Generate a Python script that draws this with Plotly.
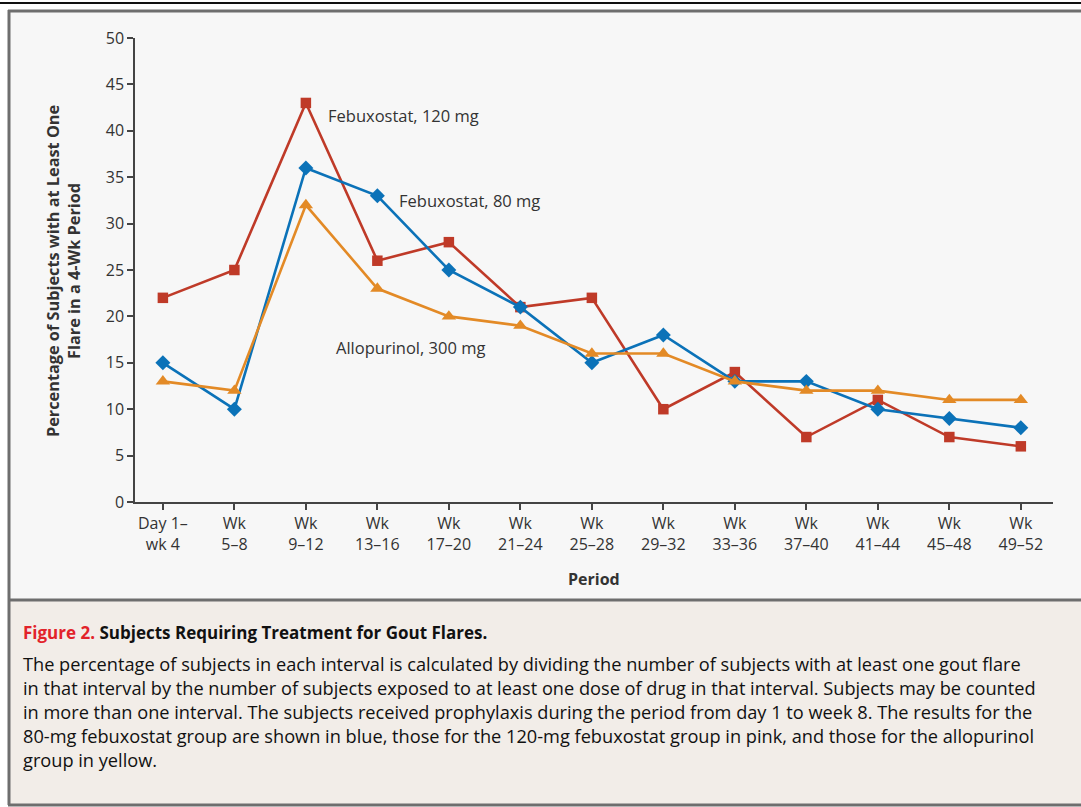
import plotly.graph_objects as go

W, H = 1081, 807

periods = ["Day 1–<br>wk 4", "Wk<br>5–8", "Wk<br>9–12", "Wk<br>13–16", "Wk<br>17–20",
           "Wk<br>21–24", "Wk<br>25–28", "Wk<br>29–32", "Wk<br>33–36", "Wk<br>37–40",
           "Wk<br>41–44", "Wk<br>45–48", "Wk<br>49–52"]
febux_120 = [22, 25, 43, 26, 28, 21, 22, 10, 14, 7, 11, 7, 6]
febux_80 = [15, 10, 36, 33, 25, 21, 15, 18, 13, 13, 10, 9, 8]
allopurinol_300 = [13, 12, 32, 23, 20, 19, 16, 16, 13, 12, 12, 11, 11]
y_ticks = [0, 5, 10, 15, 20, 25, 30, 35, 40, 45, 50]

caption_title = "Subjects Requiring Treatment for Gout Flares."
caption_lines = [
    "The percentage of subjects in each interval is calculated by dividing the number of subjects with at least one gout flare",
    "in that interval by the number of subjects exposed to at least one dose of drug in that interval. Subjects may be counted",
    "in more than one interval. The subjects received prophylaxis during the period from day 1 to week 8. The results for the",
    "80-mg febuxostat group are shown in blue, those for the 120-mg febuxostat group in pink, and those for the allopurinol",
    "group in yellow.",
]

FONT = "Open Sans"
TXT = "#333333"
RED = "#bf3a28"
BLUE = "#0b72b8"
ORANGE = "#e38a26"

def py(px):
    return 1 - px / H

def pxx(px):
    return px / W

xs = list(range(len(periods)))

fig = go.Figure()
fig.add_trace(go.Scatter(x=xs, y=febux_120, mode="lines+markers", name="Febuxostat, 120 mg",
                         line=dict(color=RED, width=2.6),
                         marker=dict(symbol="square", size=10.5, color=RED), cliponaxis=False))
fig.add_trace(go.Scatter(x=xs, y=febux_80, mode="lines+markers", name="Febuxostat, 80 mg",
                         line=dict(color=BLUE, width=2.6),
                         marker=dict(symbol="diamond", size=11.5, color=BLUE), cliponaxis=False))
fig.add_trace(go.Scatter(x=xs, y=allopurinol_300, mode="lines+markers", name="Allopurinol, 300 mg",
                         line=dict(color=ORANGE, width=2.6),
                         marker=dict(symbol="triangle-up", size=12.5, color=ORANGE), cliponaxis=False))

shapes = [
    dict(type="rect", xref="paper", yref="paper", x0=pxx(9), x1=pxx(1090), y0=py(600), y1=py(11),
         fillcolor="#f7f7f7", line=dict(width=0), layer="below"),
    dict(type="rect", xref="paper", yref="paper", x0=pxx(9), x1=pxx(1090), y0=py(805), y1=py(600),
         fillcolor="#f2ede8", line=dict(width=0), layer="below"),
    dict(type="line", xref="paper", yref="paper", x0=0, x1=1, y0=py(3), y1=py(3),
         line=dict(color="#111111", width=2)),
    dict(type="line", xref="paper", yref="paper", x0=pxx(8), x1=1.01, y0=py(11), y1=py(11),
         line=dict(color="#6e6e6e", width=3)),
    dict(type="line", xref="paper", yref="paper", x0=pxx(9), x1=pxx(9), y0=py(805), y1=py(10),
         line=dict(color="#6e6e6e", width=3)),
    dict(type="line", xref="paper", yref="paper", x0=pxx(8), x1=1.01, y0=py(600), y1=py(600),
         line=dict(color="#6e6e6e", width=3)),
    dict(type="line", xref="paper", yref="paper", x0=pxx(8), x1=1.01, y0=py(805), y1=py(805),
         line=dict(color="#6e6e6e", width=3)),
]

annotations = [
    dict(x=2.28, y=41.7, xref="x", yref="y", text="Febuxostat, 120 mg", showarrow=False,
         xanchor="left", yanchor="middle", font=dict(family=FONT, size=16.5, color=TXT)),
    dict(x=3.28, y=32.5, xref="x", yref="y", text="Febuxostat, 80 mg", showarrow=False,
         xanchor="left", yanchor="middle", font=dict(family=FONT, size=16.5, color=TXT)),
    dict(x=2.4, y=16.6, xref="x", yref="y", text="Allopurinol, 300 mg", showarrow=False,
         xanchor="left", yanchor="middle", font=dict(family=FONT, size=16.5, color=TXT)),
    dict(x=pxx(63), y=py(271), xref="paper", yref="paper",
         text="<b>Percentage of Subjects with at Least One<br>Flare in a 4-Wk Period</b>",
         showarrow=False, textangle=-90, xanchor="center", yanchor="middle",
         font=dict(family=FONT, size=16.3, color=TXT)),
    dict(x=pxx(594), y=py(579), xref="paper", yref="paper", text="<b>Period</b>",
         showarrow=False, xanchor="center", yanchor="middle",
         font=dict(family=FONT, size=16, color=TXT)),
    dict(x=pxx(21), y=py(632), xref="paper", yref="paper",
         text="<b><span style='color:#e2232a'>Figure 2.</span> " + caption_title + "</b>",
         showarrow=False, xanchor="left", yanchor="middle",
         font=dict(family=FONT, size=17, color="#111111")),
]
for i, line in enumerate(caption_lines):
    annotations.append(dict(x=pxx(21), y=py(664 + 24 * i), xref="paper", yref="paper", text=line,
                            showarrow=False, xanchor="left", yanchor="middle",
                            font=dict(family=FONT, size=18.2, color="#111111")))

fig.update_layout(
    width=W, height=H, autosize=False,
    margin=dict(l=0, r=0, t=0, b=0, pad=0),
    paper_bgcolor="white", plot_bgcolor="rgba(0,0,0,0)",
    showlegend=False,
    shapes=shapes, annotations=annotations,
    font=dict(family=FONT, size=16, color=TXT),
    xaxis=dict(domain=[pxx(135), pxx(1053)], range=[-0.39, 12.45], automargin=False,
               tickmode="array", tickvals=xs, ticktext=periods,
               showline=True, linecolor="#444444", linewidth=1.5,
               ticks="outside", ticklen=6, tickwidth=1.5, tickcolor="#444444",
               showgrid=False, zeroline=False, tickfont=dict(family=FONT, size=16, color=TXT)),
    yaxis=dict(domain=[py(502), py(38)], range=[0, 50], automargin=False,
               tickmode="array", tickvals=y_ticks,
               showline=True, linecolor="#444444", linewidth=1.5,
               ticks="outside", ticklen=6, tickwidth=1.5, tickcolor="#444444",
               showgrid=False, zeroline=False, tickfont=dict(family=FONT, size=16, color=TXT)),
)

fig.write_html("out.html", config={"displayModeBar": False},
               post_script="document.body.style.margin='0';document.body.style.overflow='hidden';")
